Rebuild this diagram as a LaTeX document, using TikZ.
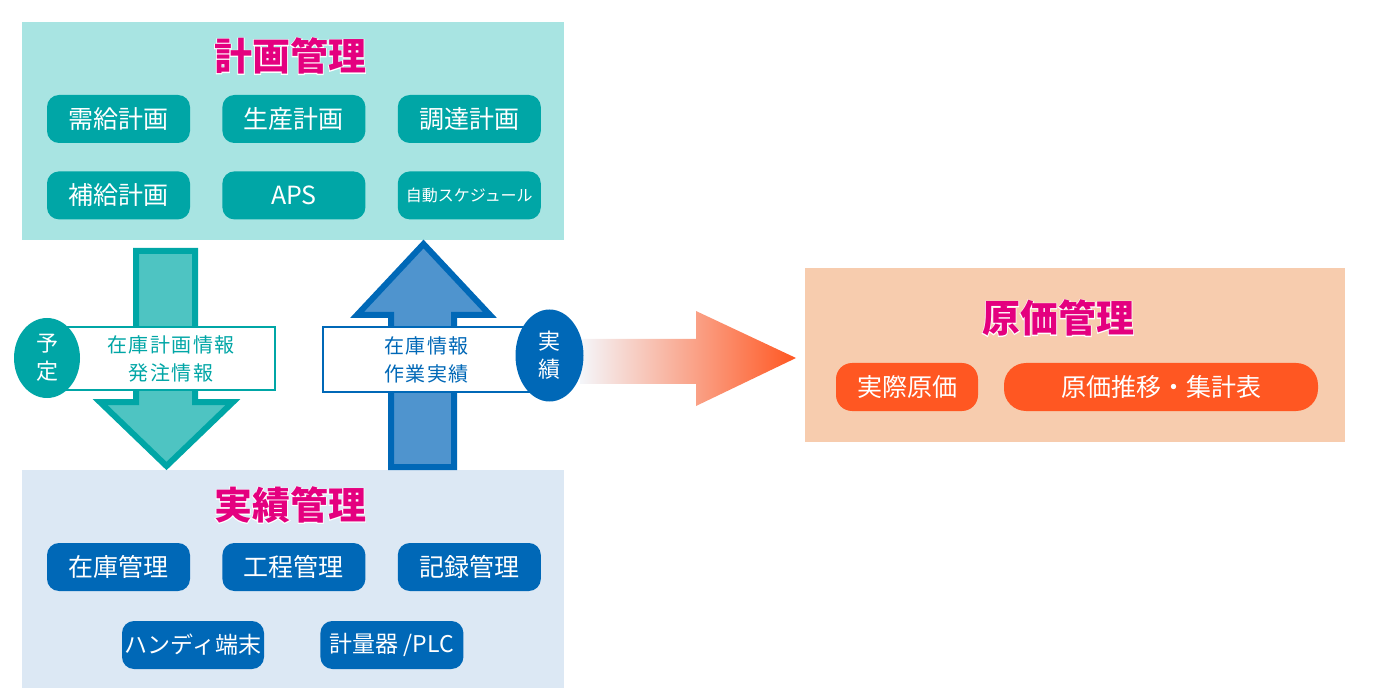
\documentclass[tikz,border=0pt]{standalone}
\usepackage{fontspec}
\setmainfont{Noto Sans CJK JP}
\usetikzlibrary{positioning,calc,shapes.geometric}
\definecolor{plnbg}{RGB}{168,228,226}
\definecolor{plnbtn}{RGB}{0,166,166}
\definecolor{dnfill}{RGB}{78,196,194}
\definecolor{actbg}{RGB}{220,232,244}
\definecolor{actbtn}{RGB}{0,104,183}
\definecolor{upfill}{RGB}{79,148,206}
\definecolor{cstbg}{RGB}{247,204,174}
\definecolor{cstbtn}{RGB}{255,87,34}
\definecolor{ttlmag}{RGB}{228,0,127}
\definecolor{fadel}{RGB}{244,246,250}
% title with a white halo
\newcommand{\halo}[1]{\rlap{\color{white}\addfontfeatures{FakeBold=4}#1}#1}
\tikzset{
  area/.style={fill=#1, draw=none, inner sep=0pt, anchor=north west},
  ttl/.style={font=\fontsize{38}{42}\selectfont\bfseries, text=ttlmag, inner sep=0pt},
  btn/.style={
    fill=#1, text=white, rounded corners=12pt, inner sep=0pt,
    minimum width=143pt, minimum height=48pt,
    font=\fontsize{25}{28}\selectfont
  },
  tag/.style={
    draw=#1, fill=white, text=#1, line width=1.1pt, align=center,
    inner sep=0pt, minimum height=63pt,
    font=\fontsize{20}{28}\selectfont\addfontfeatures{LetterSpace=8}
  },
  oval/.style={
    ellipse, fill=#1, text=white, align=center, inner sep=0pt,
    font=\fontsize{22}{28}\selectfont
  },
  bigarr/.style 2 args={fill=#1, draw=#2, line width=6pt, line join=miter}
}
\begin{document}
\begin{tikzpicture}[x=1pt, y=-1pt, node distance=28pt and 32pt]
  \useasboundingbox (0,0) rectangle (1400,700);
  % planning
  \node[area=plnbg, minimum width=542pt, minimum height=218pt] (plan) at (22,22) {};
  \node[ttl] (plantitle) at (290,56) {\halo{計画管理}};
  \node[btn=plnbtn] (jukyu) at (118.5,119) {需給計画};
  \node[btn=plnbtn, right=of jukyu] (seisan) {生産計画};
  \node[btn=plnbtn, right=of seisan] (chotatsu) {調達計画};
  \node[btn=plnbtn, below=of jukyu] (hokyu) {補給計画};
  \node[btn=plnbtn, below=of seisan] (aps) {APS};
  \node[btn=plnbtn, below=of chotatsu, font=\fontsize{16}{18}\selectfont] (sched) {自動スケジュール};
  % actuals
  \node[area=actbg, minimum width=542pt, minimum height=218pt] (act) at (22,470) {};
  \node[ttl] (acttitle) at (290,505) {\halo{実績管理}};
  \node[btn=actbtn] (zaiko) at (118.5,567) {在庫管理};
  \node[btn=actbtn, right=of zaiko] (kotei) {工程管理};
  \node[btn=actbtn, right=of kotei] (kiroku) {記録管理};
  \node[btn=actbtn, minimum width=142pt, font=\fontsize{23}{26}\selectfont] (handy) at (193,645) {ハンディ端末};
  \node[btn=actbtn, right=56pt of handy, font=\fontsize{23}{26}\selectfont] (plc) {計量器 /PLC};
  % cost
  \node[area=cstbg, minimum width=540pt, minimum height=174pt] (cost) at (805,268) {};
  \node[ttl] (costtitle) at (1058,318) {\halo{原価管理}};
  \node[btn=cstbtn, rounded corners=16pt, minimum width=142pt] (jissai) at (907,387) {実際原価};
  \node[btn=cstbtn, rounded corners=22pt, minimum width=314pt] (suii) at (1161,387) {原価推移・集計表\hspace{16pt}};
  % flows
  \draw[bigarr={dnfill}{plnbtn}] (136,251) -- (195,251) -- (195,402) -- (233,402)
    -- (166.5,466) -- (100,402) -- (136,402) -- cycle;
  \draw[bigarr={upfill}{actbtn}] (391,467) -- (391,315) -- (357,315) -- (423.5,244)
    -- (490,315) -- (454,315) -- (454,467) -- cycle;
  \shade[left color=fadel, middle color=cstbtn!40, right color=cstbtn]
    (580,339) -- (696,339) -- (696,311) -- (796,358) -- (696,406) -- (696,384)
    -- (580,384) -- cycle;
  \node[tag=plnbtn, minimum width=208pt] (planinfo) at (171,358.5) {在庫計画情報\\発注情報};
  \node[tag=actbtn, minimum width=207pt, minimum height=65pt] (actinfo) at (426.5,359.5) {在庫情報\\作業実績};
  \node[oval=plnbtn, minimum width=66pt, minimum height=80pt] (yotei) at (47,358) {予\\定};
  \node[oval=actbtn, minimum width=68pt, minimum height=92pt] (jisseki) at (549.5,355.5) {実\\績};
\end{tikzpicture}
\end{document}
